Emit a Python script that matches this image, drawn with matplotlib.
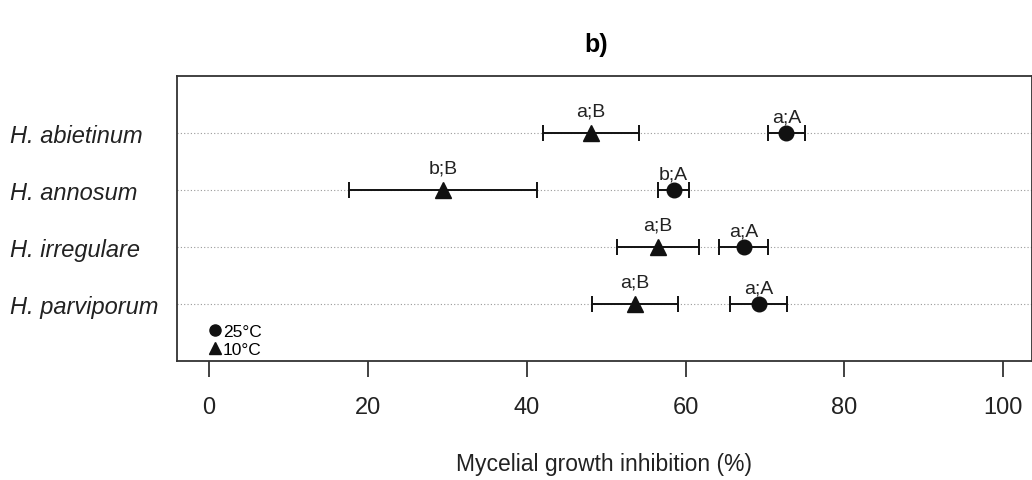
import matplotlib
matplotlib.use("Agg")
from matplotlib import pyplot as plt
from matplotlib.lines import Line2D

plt.rcParams['font.family'] = ['Liberation Sans', 'DejaVu Sans']

species = ["H. abietinum", "H. annosum", "H. irregulare", "H. parviporum"]
rows = [4, 3, 2, 1]

mean_25 = [72.7, 58.5, 67.3, 69.2]
err_25 = [2.35, 1.95, 3.1, 3.55]
lab_25 = ["a;A", "b;A", "a;A", "a;A"]

mean_10 = [48.1, 29.5, 56.5, 53.6]
err_10 = [6.1, 11.8, 5.15, 5.4]
lab_10 = ["a;B", "b;B", "a;B", "a;B"]

ticks = [0, 20, 40, 60, 80, 100]

fig = plt.figure(figsize=(10.32, 4.81), dpi=100)
ax = fig.add_axes([177 / 1032, 1 - 362 / 481, 1 - 177 / 1032, (362 - 77) / 481])

for r in rows:
    ax.axhline(r, color="#9a9a9a", lw=0.8, ls=(0, (1, 2)), zorder=1)

ax.errorbar(mean_25, rows, xerr=err_25, fmt="o", color="#111111", ms=10.5,
            capsize=6, elinewidth=1.4, capthick=1.4, zorder=3)
ax.errorbar(mean_10, rows, xerr=err_10, fmt="^", color="#111111", ms=12,
            capsize=6, elinewidth=1.4, capthick=1.4, zorder=3)

for x, y, t in zip(mean_25, rows, lab_25):
    ax.annotate(t, (x, y), xytext=(0, 11.5), textcoords="offset points",
                ha="center", va="center", fontsize=14, color="#222222")
for x, y, t in zip(mean_10, rows, lab_10):
    ax.annotate(t, (x, y), xytext=(0, 15.5), textcoords="offset points",
                ha="center", va="center", fontsize=14, color="#222222")

ax.set_xlim(-4, 103.6)
ax.set_ylim(0, 5)
ax.set_xticks(ticks)
ax.set_xticklabels([str(t) for t in ticks])
ax.tick_params(axis="x", length=11.5, width=1.2, pad=14, labelsize=17, colors="#222222")
ax.set_yticks(rows)
ax.set_yticklabels(species, fontstyle="italic", fontsize=17, ha="left")
ax.tick_params(axis="y", length=0, pad=(177 - 10) * 0.72, colors="#222222")
for s in ax.spines.values():
    s.set_linewidth(1.3)
    s.set_color("#333333")

ax.set_xlabel("Mycelial growth inhibition (%)", fontsize=16.5, labelpad=24, color="#222222")

handles = [Line2D([], [], marker="o", ls="", color="#111111", ms=8),
           Line2D([], [], marker="^", ls="", color="#111111", ms=9)]
ax.legend(handles, ["25°C", "10°C"], loc="lower left", bbox_to_anchor=(0.024, -0.03),
          frameon=False, fontsize=12.5, handlelength=0.6, handletextpad=0.15,
          labelspacing=0.2, borderpad=0.2)

fig.text(596 / 1032, 1 - 45 / 481, "b)", fontsize=18, fontweight="bold",
         ha="center", va="center")

fig.savefig("out.png", dpi=100)
